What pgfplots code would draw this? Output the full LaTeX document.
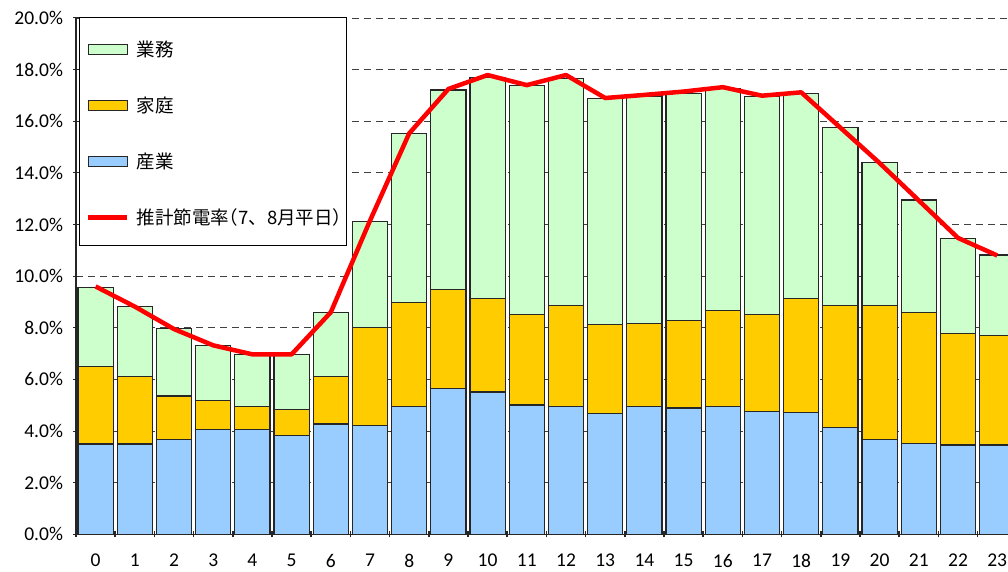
\documentclass[border=0pt]{standalone}
\usepackage{fontspec}
\setmainfont{Carlito}
\newfontfamily\jp{Noto Sans CJK JP}
\usepackage{pgfplots}
\pgfplotsset{compat=1.18}
\usepackage{pgfplotstable}
\definecolor{gyomu}{HTML}{CCFFCC}
\definecolor{katei}{HTML}{FFCC00}
\definecolor{sangyo}{HTML}{99CCFF}
\definecolor{edge}{HTML}{262626}

\pgfplotstableread{
h sangyo katei gyomu rate
0 3.50 3.01 3.06 9.60
1 3.50 2.61 2.71 8.82
2 3.67 1.69 2.60 7.95
3 4.07 1.10 2.15 7.32
4 4.07 0.87 2.02 6.97
5 3.84 0.99 2.13 6.97
6 4.27 1.84 2.49 8.60
7 4.20 3.82 4.09 12.15
8 4.94 4.03 6.56 15.53
9 5.64 3.85 7.72 17.25
10 5.51 3.63 8.57 17.79
11 5.01 3.51 8.86 17.40
12 4.94 3.92 8.81 17.79
13 4.67 3.45 8.75 16.90
14 4.94 3.24 8.80 17.02
15 4.89 3.39 8.81 17.15
16 4.94 3.73 8.61 17.32
17 4.77 3.75 8.45 16.99
18 4.71 4.43 7.95 17.12
19 4.13 4.73 6.91 15.75
20 3.68 5.18 5.53 14.38
21 3.51 5.08 4.36 12.93
22 3.46 4.31 3.68 11.48
23 3.46 4.24 3.12 10.80
}\data

\newcommand\halt[1]{{\addfontfeature{RawFeature=+halt}#1}}

\begin{document}
\begin{tikzpicture}[x=1pt,y=1pt]
\pgfplotsset{common/.style={scale only axis, width=940.8pt, height=516.3pt,
  xmin=-0.5, xmax=23.5, ymin=0, ymax=20, at={(76pt,37.7pt)}, anchor=south west}}
\begin{axis}[common,
  ybar stacked, bar width=0.9,
  axis x line*=bottom, axis y line*=left,
  axis line style={edge, line width=1.2pt},
  ytick={0,2,...,20},
  xtick={0,...,23},
  minor xtick={-0.5,0.5,...,23.5},
  ymajorgrids,
  major grid style={black!75, dash pattern=on 7pt off 5pt, line width=0.9pt},
  tick align=center, major tick length=5pt, minor tick length=6pt,
  major x tick style={draw=none},
  minor x tick style={edge, line width=1.5pt},
  major y tick style={edge, line width=1pt},
  /pgf/number format/assume math mode=true,
  every tick label/.append style={font=\fontsize{19.5}{21}\selectfont, text=black},
  yticklabel={\pgfmathprintnumber[fixed,fixed zerofill,precision=1]{\tick}\%},
  yticklabel style={xshift=-7pt},
  xticklabel style={yshift=-14pt},
]
\addplot[fill=sangyo, draw=edge, line width=1.2pt] table[x=h,y=sangyo]{\data};
\addplot[fill=katei, draw=edge, line width=1.2pt] table[x=h,y=katei]{\data};
\addplot[fill=gyomu, draw=edge, line width=1.2pt] table[x=h,y=gyomu]{\data};
\end{axis}
\begin{axis}[common, hide axis,
  legend style={at={(0.0032,1.002)}, anchor=north west, draw=black, line width=0.8pt,
    fill=white, font=\jp\fontsize{18.5}{22}\selectfont, row sep=35pt, column sep=6pt,
    inner xsep=3pt, inner ysep=17pt, nodes={inner xsep=1pt}},
  legend cell align=left,
]
\addlegendimage{legend image code/.code={\path[draw=none,fill=none] (-6pt,0pt) -- (-6pt,15pt);\draw[fill=gyomu,draw=edge,line width=1.2pt] (0pt,-5pt) rectangle (39pt,5pt);}}
\addlegendentry{業務}
\addlegendimage{legend image code/.code={\path[draw=none,fill=none] (-6pt,0pt);\draw[fill=katei,draw=edge,line width=1.2pt] (0pt,-5pt) rectangle (39pt,5pt);}}
\addlegendentry{家庭}
\addlegendimage{legend image code/.code={\path[draw=none,fill=none] (-6pt,0pt);\draw[fill=sangyo,draw=edge,line width=1.2pt] (0pt,-5pt) rectangle (39pt,5pt);}}
\addlegendentry{産業}
\addplot[red, line width=4.5pt, line join=round, sharp plot, no marks,
  legend image code/.code={\path[draw=none,fill=none] (-6pt,0pt);\draw[red, line width=4.5pt] (0pt,0pt) -- (39pt,0pt);}]
  table[x=h,y=rate]{\data};
\addlegendentry{推計節電率\halt{（}7、8月平日\halt{）}}
\end{axis}
\pgfresetboundingbox
\path (0pt,0pt) rectangle (1008pt,572pt);
\end{tikzpicture}
\end{document}
